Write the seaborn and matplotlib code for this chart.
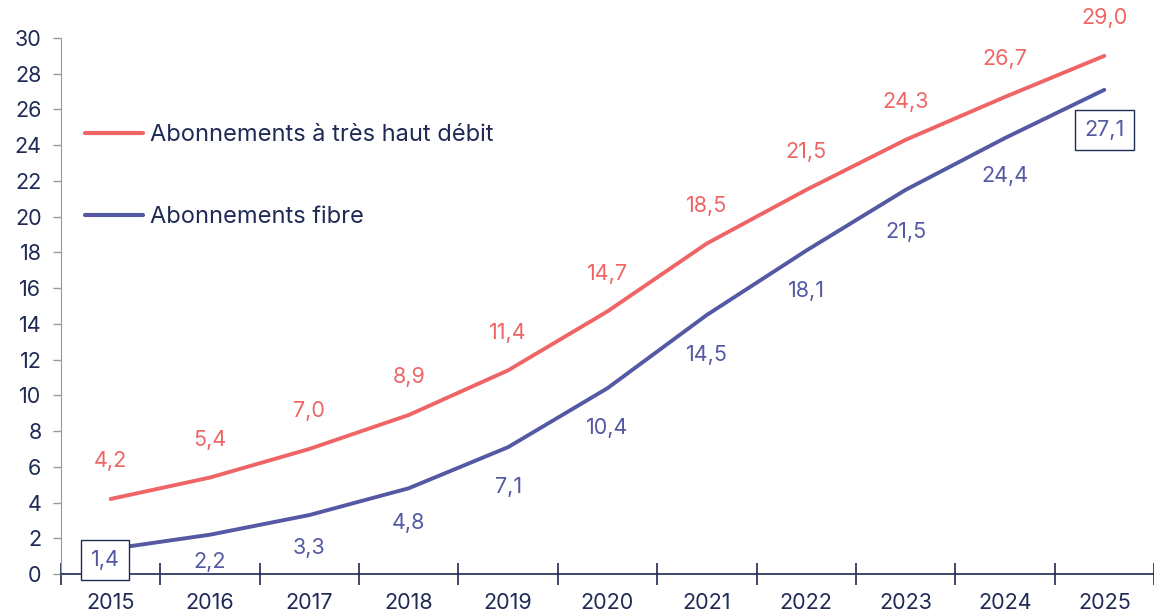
import numpy as np
import pandas as pd
import matplotlib
matplotlib.use("Agg")
import matplotlib.pyplot as plt
import seaborn as sns

# data (millions of subscriptions)
years = [2015, 2016, 2017, 2018, 2019, 2020, 2021, 2022, 2023, 2024, 2025]
thd = [4.2, 5.4, 7.0, 8.9, 11.4, 14.7, 18.5, 21.5, 24.3, 26.7, 29.0]
fibre = [1.4, 2.2, 3.3, 4.8, 7.1, 10.4, 14.5, 18.1, 21.5, 24.4, 27.1]
series_names = ["Abonnements à très haut débit", "Abonnements fibre"]

red = "#ef6566"
blue = "#5558a3"
navy = "#1f2a55"

sns.set_style("white")
plt.rcParams["font.family"] = ["Inter", "DejaVu Sans"]

df = pd.DataFrame({
    "pos": list(range(len(years))) * 2,
    "value": thd + fibre,
    "serie": [series_names[0]] * len(years) + [series_names[1]] * len(years),
})

fig = plt.figure(figsize=(11.54, 6.16), dpi=100)
ax = fig.add_axes([61 / 1154, 42 / 616, 1 - 61 / 1154, (574 - 38) / 616])

sns.lineplot(data=df, x="pos", y="value", hue="serie", palette=[red, blue],
             linewidth=2.8, ax=ax, legend=True)

# value labels
def fmt(v):
    return f"{v:.1f}".replace(".", ",")

lab_size = 15.5
box = dict(boxstyle="square,pad=0.45", fc="white", ec=navy, lw=1)
# labels under the fibre line sit a bit closer near the x axis
fibre_dy = [-8, -20, -24, -25, -29, -29, -29, -29, -30, -27, -29]
for i, v in enumerate(thd):
    ax.annotate(fmt(v), (i, v), xytext=(0, 27), textcoords="offset points",
                ha="center", va="center", color=red, fontsize=lab_size)
for i, v in enumerate(fibre):
    boxed = i == 0 or i == len(fibre) - 1
    dx = -4 if i == 0 else 0
    ax.annotate(fmt(v), (i, v), xytext=(dx, fibre_dy[i]), textcoords="offset points",
                ha="center", va="center", color=blue, fontsize=lab_size,
                bbox=box if boxed else None, zorder=5)

ax.set_xlim(-0.5, 10.41)
ax.set_ylim(0, 30)
ax.set_yticks(np.arange(0, 31, 2))
ax.set_xticks(range(len(years)))
ax.set_xticklabels(years)
ax.set_xticks(np.arange(-0.5, len(years), 1), minor=True)
ax.tick_params(axis="x", which="major", bottom=False, length=0, pad=14,
               labelsize=15.5, labelcolor=navy)
ax.tick_params(axis="x", which="minor", bottom=True, length=16, direction="inout",
               color=navy, width=1.2)
ax.tick_params(axis="y", length=6, color="#999999", width=1, pad=8, labelsize=15.5,
               labelcolor=navy, left=True)
ax.set_xlabel("")
ax.set_ylabel("")

for s in ["top", "right"]:
    ax.spines[s].set_visible(False)
ax.spines["left"].set_color("#999999")
ax.spines["bottom"].set_color(navy)
ax.spines["bottom"].set_linewidth(1.2)

leg = ax.legend(loc="upper left", bbox_to_anchor=(3 / 1093, (574 - 103) / 536),
                frameon=False, fontsize=17, handlelength=2.45, handletextpad=0.3,
                labelspacing=2.55, labelcolor=navy)
for line in leg.get_lines():
    line.set_linewidth(3)

fig.savefig("out.png", dpi=100)
